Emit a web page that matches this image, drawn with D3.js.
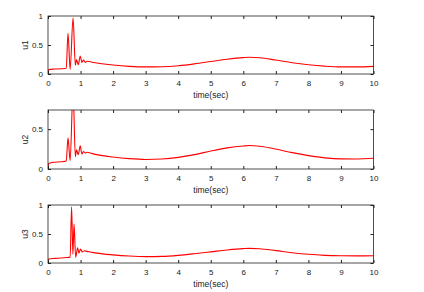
<!DOCTYPE html>
<html>
<head>
<meta charset="utf-8">
<script src="https://cdn.jsdelivr.net/npm/d3@7"></script>
<style>
  body { margin: 0; background: #fff; }
  svg { display: block; }
  .tick text { font-family: "Liberation Sans", Arial, sans-serif; font-size: 8px; fill: #222; }
  .lbl { font-family: "Liberation Sans", Arial, sans-serif; font-size: 8.5px; fill: #222; }
</style>
</head>
<body>
<div id="chart"></div>
<script>
// time samples for u1 / u2
var tA = [0, 0.02, 0.2, 0.4, 0.56, 0.615, 0.68, 0.77, 0.84, 0.875, 0.93, 0.99, 1.04, 1.09, 1.15, 1.2, 1.3, 1.5, 2, 2.5,
          3, 3.5, 4, 4.5, 5, 5.5, 6, 6.2, 6.5, 7, 7.5, 8, 8.5, 9, 9.5, 10];
var u1 = [0, 0.075, 0.085, 0.09, 0.1, 0.70, 0.08, 0.97, 0.15, 0.25, 0.16, 0.31, 0.2, 0.24, 0.2, 0.22, 0.21, 0.19, 0.155, 0.132,
          0.122, 0.126, 0.143, 0.175, 0.215, 0.255, 0.283, 0.288, 0.28, 0.24, 0.195, 0.16, 0.135, 0.122, 0.122, 0.132];
var u2 = [0, 0.07, 0.085, 0.09, 0.1, 0.39, 0.105, 1.0, 0.155, 0.24, 0.18, 0.29, 0.19, 0.22, 0.2, 0.21, 0.2, 0.18, 0.15, 0.13,
          0.12, 0.126, 0.146, 0.18, 0.225, 0.265, 0.289, 0.294, 0.285, 0.25, 0.205, 0.168, 0.14, 0.127, 0.126, 0.134];
// time samples for u3
var tB = [0, 0.02, 0.2, 0.4, 0.6, 0.68, 0.725, 0.765, 0.80, 0.85, 0.91, 0.95, 1.0, 1.05, 1.12, 1.2, 1.3, 1.5, 2, 2.5,
          3, 3.5, 4, 4.5, 5, 5.5, 6, 6.2, 6.5, 7, 7.5, 8, 8.5, 9, 9.5, 10];
var u3 = [0, 0.07, 0.08, 0.085, 0.095, 0.1, 0.97, 0.15, 0.67, 0.1, 0.26, 0.17, 0.24, 0.19, 0.21, 0.2, 0.19, 0.17, 0.14, 0.12,
          0.11, 0.114, 0.132, 0.16, 0.192, 0.225, 0.248, 0.252, 0.245, 0.213, 0.178, 0.15, 0.132, 0.124, 0.122, 0.126];

var xTicks = [0, 1, 2, 3, 4, 5, 6, 7, 8, 9, 10];
var yTicks1 = [0, 0.5, 1];
var yTicks2 = [0, 0.5];
var yTicks3 = [0, 0.5, 1];

var W = 424, H = 292;
var x0 = 48, x1 = 373.5;

var panels = [
  { name: "u1", t: tA, v: u1, ymax: 1,    ticks: yTicks1, top: 16,  bottom: 74 },
  { name: "u2", t: tA, v: u2, ymax: 0.74, ticks: yTicks2, top: 110, bottom: 169 },
  { name: "u3", t: tB, v: u3, ymax: 1,    ticks: yTicks3, top: 205, bottom: 263 }
];

var svg = d3.select("#chart").append("svg")
  .attr("width", W).attr("height", H);

var xScale = d3.scaleLinear().domain([0, 10]).range([x0, x1]);

panels.forEach(function(p, i) {
  var yScale = d3.scaleLinear().domain([0, p.ymax]).range([p.bottom, p.top]);
  var g = svg.append("g");

  g.append("clipPath").attr("id", "clip" + i)
    .append("rect")
    .attr("x", x0).attr("y", p.top)
    .attr("width", x1 - x0).attr("height", p.bottom - p.top);

  var pts = p.t.map(function(t, k) { return [t, p.v[k]]; });
  var line = d3.line()
    .x(function(d) { return xScale(d[0]); })
    .y(function(d) { return yScale(d[1]); })
    .curve(d3.curveMonotoneX);

  g.append("path")
    .datum(pts)
    .attr("clip-path", "url(#clip" + i + ")")
    .attr("fill", "none")
    .attr("stroke", "#ff0000")
    .attr("stroke-width", 1.1)
    .attr("d", line);

  // bottom axis
  g.append("g")
    .attr("transform", "translate(0," + p.bottom + ")")
    .call(d3.axisBottom(xScale).tickValues(xTicks).tickFormat(d3.format("d"))
      .tickSizeInner(-3).tickSizeOuter(0).tickPadding(6))
    .call(function(a) { a.select(".domain").remove(); a.selectAll("line").attr("stroke", "#222"); });
  // top ticks
  g.append("g")
    .attr("transform", "translate(0," + p.top + ")")
    .call(d3.axisTop(xScale).tickValues(xTicks).tickFormat("")
      .tickSizeInner(-3).tickSizeOuter(0))
    .call(function(a) { a.select(".domain").remove(); a.selectAll("line").attr("stroke", "#222"); });
  // left axis
  g.append("g")
    .attr("transform", "translate(" + x0 + ",0)")
    .call(d3.axisLeft(yScale).tickValues(p.ticks).tickFormat(d3.format("~g"))
      .tickSizeInner(-3).tickSizeOuter(0).tickPadding(5))
    .call(function(a) { a.select(".domain").remove(); a.selectAll("line").attr("stroke", "#222"); });
  // right ticks
  g.append("g")
    .attr("transform", "translate(" + x1 + ",0)")
    .call(d3.axisRight(yScale).tickValues(p.ticks).tickFormat("")
      .tickSizeInner(-3).tickSizeOuter(0))
    .call(function(a) { a.select(".domain").remove(); a.selectAll("line").attr("stroke", "#222"); });

  // box
  g.append("rect")
    .attr("x", x0).attr("y", p.top)
    .attr("width", x1 - x0).attr("height", p.bottom - p.top)
    .attr("fill", "none").attr("stroke", "#222").attr("stroke-width", 0.8);

  g.append("text").attr("class", "lbl")
    .attr("x", (x0 + x1) / 2).attr("y", p.bottom + 24)
    .attr("text-anchor", "middle")
    .text("time(sec)");

  g.append("text").attr("class", "lbl")
    .attr("transform", "translate(28," + ((p.top + p.bottom) / 2) + ") rotate(-90)")
    .attr("text-anchor", "middle")
    .text(p.name);
});
</script>
</body>
</html>
